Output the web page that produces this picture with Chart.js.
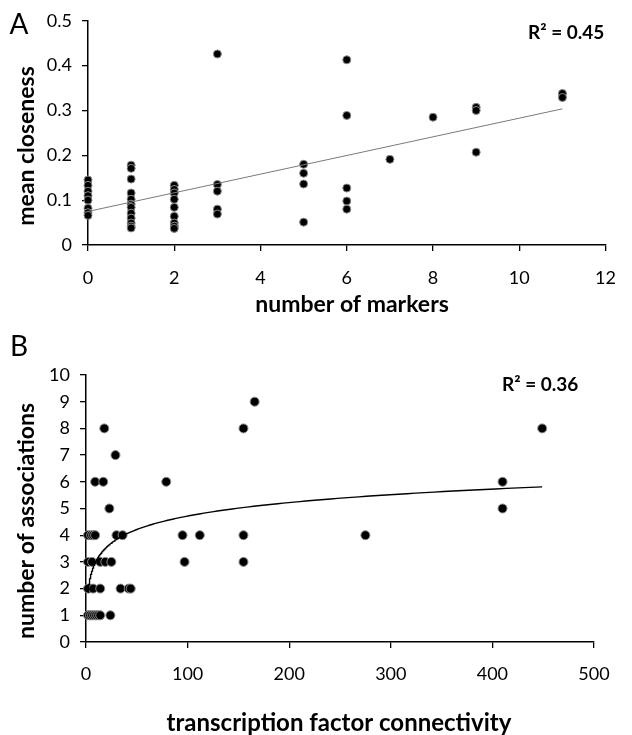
<!DOCTYPE html>
<html><head><meta charset="utf-8">
<script src="https://cdn.jsdelivr.net/npm/chart.js@4.4.0/dist/chart.umd.min.js"></script>
<style>
html,body{margin:0;padding:0;background:#fff;width:632px;height:735px;overflow:hidden}
canvas{position:absolute;left:0}
#ca{top:0}
#cb{top:315px}
</style></head><body>
<canvas id="ca" width="632" height="315"></canvas>
<canvas id="cb" width="632" height="420"></canvas>
<script>
// ---------- Panel A data ----------
const markersX = [0,0,0,0,0,0,0,0,
  1,1,1,1,1,1,1,1,1,1,1,1,
  2,2,2,2,2,2,2,2,2,
  3,3,3,3,3,
  5,5,5,5,
  6,6,6,6,6,
  7,8,9,9,9,11,11];
const closenessY = [0.145,0.133,0.120,0.110,0.100,0.082,0.072,0.066,
  0.178,0.171,0.147,0.116,0.102,0.091,0.084,0.071,0.060,0.049,0.042,0.038,
  0.133,0.124,0.116,0.102,0.084,0.064,0.049,0.042,0.037,
  0.426,0.135,0.120,0.080,0.069,
  0.180,0.160,0.136,0.051,
  0.413,0.289,0.127,0.098,0.080,
  0.191,0.285,0.307,0.300,0.207,0.338,0.329];
const ticksAX = [0,2,4,6,8,10,12];
const ticksAY = [0,0.1,0.2,0.3,0.4,0.5];
const r2A = 'R\u00B2 = 0.45';

// ---------- Panel B data ----------
const connectivityX = [18,29,9,17,23,79,
  2,5,7,9,30,36,
  2,6,14,19,25,
  2,7,14,34,42,44,
  2,4,6,8,10,12,14,24,
  95,97,112,155,155,155,166,275,410,410,449];
const associationsY = [8,7,6,6,5,6,
  4,4,4,4,4,4,
  3,3,3,3,3,
  2,2,2,2,2,2,
  1,1,1,1,1,1,1,1,
  4,3,4,8,4,3,9,4,6,5,8];
const ticksBX = [0,100,200,300,400,500];
const ticksBY = [0,1,2,3,4,5,6,7,8,9,10];
const r2B = 'R\u00B2 = 0.36';

// ---------- fits computed from the data ----------
function linFit(xs, ys){
  const n=xs.length; let sx=0,sy=0,sxx=0,sxy=0;
  for(let i=0;i<n;i++){sx+=xs[i];sy+=ys[i];sxx+=xs[i]*xs[i];sxy+=xs[i]*ys[i];}
  const m=(n*sxy-sx*sy)/(n*sxx-sx*sx); return {m, b:(sy-m*sx)/n};
}
const fA = linFit(markersX, closenessY);
const xAmin = Math.min(...markersX), xAmax = Math.max(...markersX);
const trendA = [{x:xAmin,y:fA.m*xAmin+fA.b},{x:xAmax,y:fA.m*xAmax+fA.b}];

const fB = linFit(connectivityX.map(Math.log), associationsY);
const xBmin = Math.min(...connectivityX), xBmax = Math.max(...connectivityX);
const trendB = [];
for(let i=0;i<=200;i++){
  const x = xBmin*Math.pow(xBmax/xBmin, i/200);
  trendB.push({x, y: fB.m*Math.log(x)+fB.b});
}

const FONT = 'Lato, Carlito, Calibri, sans-serif';

function textPlugin(items){
  return {id:'texts', afterDraw(chart){
    const ctx=chart.ctx; ctx.save(); ctx.fillStyle='#000';
    for(const t of items){
      ctx.save();
      ctx.font = t.font; ctx.textAlign=t.align||'center'; ctx.textBaseline='middle';
      ctx.translate(t.x,t.y); if(t.rot) ctx.rotate(t.rot);
      ctx.fillText(t.text,0,0); ctx.restore();
    }
    ctx.restore();
  }};
}

function axisOpts(min,max,ticks,pad,fit){
  return {
    type:'linear', min, max,
    afterBuildTicks(s){ s.ticks = ticks.map(v=>({value:v})); },
    afterFit: fit,
    grid:{display:true, drawOnChartArea:false, drawTicks:true, tickLength:6, color:'#000', lineWidth:1.3},
    border:{display:true, color:'#000', width:1.5},
    ticks:{color:'#000', font:{family:FONT, size:18}, padding:pad, maxRotation:0,
      callback:(v)=> String(Math.round(v*100)/100)}
  };
}

Chart.defaults.animation = false;

new Chart(document.getElementById('ca'), {
  type:'scatter',
  data:{datasets:[
    {data: markersX.map((x,i)=>({x, y:closenessY[i]})), backgroundColor:'#000', borderColor:'#8a8a8a', borderWidth:1, pointRadius:4, order:1},
    {type:'line', data: trendA, borderColor:'#7a7a7a', borderWidth:1, pointRadius:0, fill:false, order:0}
  ]},
  options:{
    responsive:false, animation:false,
    layout:{padding:{top:20, right:13, left:0, bottom:0}},
    plugins:{legend:{display:false}, tooltip:{enabled:false}},
    scales:{
      x: axisOpts(0,12,ticksAX,16,(s)=>{s.height=70;}),
      y: axisOpts(0,0.5,ticksAY,10,(s)=>{s.width=88;})
    },
    clip:false
  },
  plugins:[textPlugin([
    {text:'A', x:19, y:25, font:'28px '+FONT},
    {text:r2A, x:528, y:33, font:'bold 19px '+FONT, align:'left'},
    {text:'mean closeness', x:27, y:146, font:'bold 23px '+FONT, rot:-Math.PI/2},
    {text:'number of markers', x:352, y:305, font:'bold 23px '+FONT}
  ])]
});

new Chart(document.getElementById('cb'), {
  type:'scatter',
  data:{datasets:[
    {data: connectivityX.map((x,i)=>({x, y:associationsY[i]})), backgroundColor:'#000', borderColor:'#8a8a8a', borderWidth:1, pointRadius:4.5, order:1},
    {type:'line', data: trendB, borderColor:'#000', borderWidth:1.4, pointRadius:0, fill:false, tension:0, order:0}
  ]},
  options:{
    responsive:false, animation:false,
    layout:{padding:{top:60, right:38, left:0, bottom:0}},
    plugins:{legend:{display:false}, tooltip:{enabled:false}},
    scales:{
      x: axisOpts(0,500,ticksBX,15,(s)=>{s.height=93;}),
      y: axisOpts(0,10,ticksBY,10,(s)=>{s.width=86;})
    },
    clip:false
  },
  plugins:[textPlugin([
    {text:'B', x:19, y:32, font:'28px '+FONT},
    {text:r2B, x:502, y:70, font:'bold 19px '+FONT, align:'left'},
    {text:'number of associations', x:27, y:206, font:'bold 23px '+FONT, rot:-Math.PI/2},
    {text:'transcription factor connectivity', x:339, y:408, font:'bold 24px '+FONT}
  ])]
});
</script>
</body></html>
